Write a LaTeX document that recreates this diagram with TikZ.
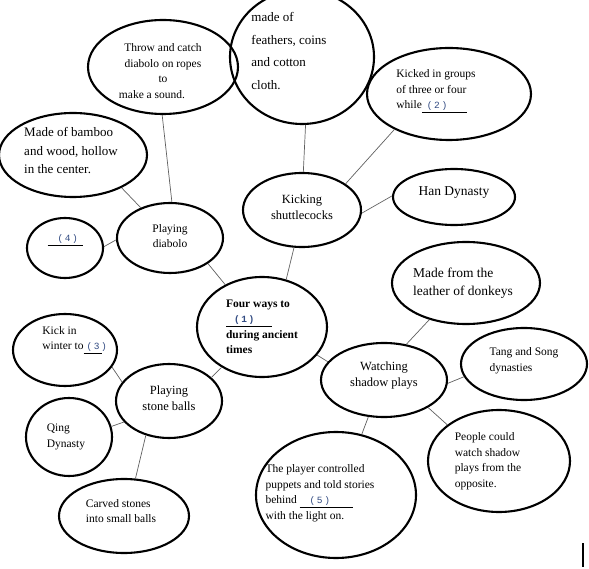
\documentclass[tikz,border=0pt]{standalone}
\usepackage{fontspec}
\setmainfont{Liberation Serif}
\newfontfamily\ansfont{Liberation Mono}
\usetikzlibrary{shapes.geometric}
\definecolor{ansblue}{RGB}{50,75,130}
\definecolor{linkgray}{RGB}{95,95,95}
\newcommand{\gap}[3]{\underline{\makebox[#1][l]{\hspace*{#2}{\color{ansblue}\ansfont\fontsize{9.5}{10}\selectfont(\,#3\,)}}}}
\tikzset{
  bubble/.style={ellipse, draw=black, line width=2.1pt, inner sep=0pt},
  btext/.style ={align=left, inner sep=0pt, font=\fontsize{11.5}{15.5}\selectfont},
  bctext/.style={btext, align=center},
  bigtext/.style={font=\fontsize{12.5}{16}\selectfont},
  link/.style  ={draw=linkgray, line width=0.7pt},
}

\begin{document}
\begin{tikzpicture}[x=1pt, y=-1pt]
    \useasboundingbox (0,0) rectangle (589,569);
    \node[bubble, minimum width=150pt, minimum height=94pt,
          label={[bctext, yshift=-4pt]center:{Throw and catch\\diabolo on ropes\\to\\make a sound.\hspace*{22pt}}}] (thrw) at (163,67) {};
    \node[bubble, minimum width=144pt, minimum height=134pt,
          label={[btext, xshift=-13pt, yshift=6pt, font=\fontsize{13}{22.5}\selectfont]center:{made of\\feathers, coins\\and cotton\\cloth.}}] (fthr) at (302,57) {};
    \node[bubble, minimum width=164pt, minimum height=92pt,
          label={[btext, xshift=-13pt, yshift=3pt]center:{Kicked in groups\\of three or four\\while\gap{45pt}{5pt}{2}}}] (grps) at (449,94) {};
    \node[bubble, minimum width=148pt, minimum height=84pt,
          label={[btext, xshift=-2pt, yshift=4pt, font=\fontsize{13}{18.5}\selectfont]center:{Made of bamboo\\and wood, hollow\\in the center.}}] (bmbo) at (73,155) {};
    \node[bubble, minimum width=118pt, minimum height=74pt,
          label={[bctext, bigtext, yshift=3pt]center:{Kicking\\shuttlecocks}}] (kick) at (302,210) {};
    \node[bubble, minimum width=122pt, minimum height=56pt,
          label={[btext, yshift=4pt, font=\fontsize{13.5}{16}\selectfont]center:{Han Dynasty}}] (han) at (454,197) {};
    \node[bubble, minimum width=76pt, minimum height=60pt,
          label={[btext, yshift=8pt]center:{\gap{35pt}{10pt}{4}}}] (gap4) at (65,248) {};
    \node[bubble, minimum width=106pt, minimum height=70pt,
          label={[bctext, yshift=2pt]center:{Playing\\diabolo}}] (diab) at (170,238) {};
    \node[bubble, minimum width=130pt, minimum height=100pt,
          label={[btext, font=\fontsize{11.5}{15.5}\selectfont\bfseries]center:{Four ways to\\\gap{46pt}{8pt}{1}\\during ancient\\times}}] (main) at (262,327) {};
    \node[bubble, minimum width=148pt, minimum height=82pt,
          label={[btext, xshift=-3pt, font=\fontsize{13.5}{18}\selectfont]center:{Made from the\\leather of donkeys}}] (lthr) at (466,283) {};
    \node[bubble, minimum width=104pt, minimum height=72pt,
          label={[btext, xshift=7pt, yshift=10pt]center:{Kick in\\winter to\gap{18pt}{3pt}{3}}}] (wint) at (65,350) {};
    \node[bubble, minimum width=106pt, minimum height=74pt,
          label={[bctext, bigtext, yshift=3pt]center:{Playing\\stone balls}}] (ston) at (169,401) {};
    \node[bubble, minimum width=126pt, minimum height=74pt,
          label={[bctext, bigtext, yshift=4pt]center:{Watching\\shadow plays}}] (wtch) at (384,380) {};
    \node[bubble, minimum width=126pt, minimum height=72pt,
          label={[btext, yshift=3pt]center:{Tang and Song\\dynasties}}] (tang) at (524,364) {};
    \node[bubble, minimum width=86pt, minimum height=78pt,
          label={[btext, xshift=-3pt]center:{Qing\\Dynasty}}] (qing) at (69,437) {};
    \node[bubble, minimum width=142pt, minimum height=102pt,
          label={[btext, xshift=-11pt]center:{People could\\watch shadow\\plays from the\\opposite.}}] (ppl) at (499,461) {};
    \node[bubble, minimum width=160pt, minimum height=126pt,
          label={[btext, xshift=-16pt, yshift=2pt]center:{The player controlled\\puppets and told stories\\behind \gap{53pt}{10pt}{5}\\with the light on.}}] (plyr) at (336,495) {};
    \node[bubble, minimum width=130pt, minimum height=74pt,
          label={[btext, xshift=-3pt, yshift=5pt]center:{Carved stones\\into small balls}}] (crvd) at (124,516) {};
    \draw[link] (thrw.-91)  -- (diab.87);
    \draw[link] (bmbo.-34)  -- (diab.134);
    \draw[link] (gap4.2)    -- (diab.182);
    \draw[link] (diab.-34)  -- (main.131);
    \draw[link] (fthr.-87)  -- (kick.88);
    \draw[link] (grps.-147) -- (kick.31);
    \draw[link] (han.179)   -- (kick.-3);
    \draw[link] (kick.-102) -- (main.63);
    \draw[link] (main.-135) -- (ston.29);
    \draw[link] (main.-27)  -- (wtch.162);
    \draw[link] (lthr.-135) -- (wtch.58);
    \draw[link] (tang.192)  -- (wtch.-3);
    \draw[link] (wtch.-32)  -- (ppl.145);
    \draw[link] (wtch.-113) -- (plyr.67);
    \draw[link] (wint.-20)  -- (ston.158);
    \draw[link] (qing.14)   -- (ston.-155);
    \draw[link] (ston.-124) -- (crvd.73);
    \draw[line width=1.8pt] (583,543) -- (583,567);
\end{tikzpicture}
\end{document}
